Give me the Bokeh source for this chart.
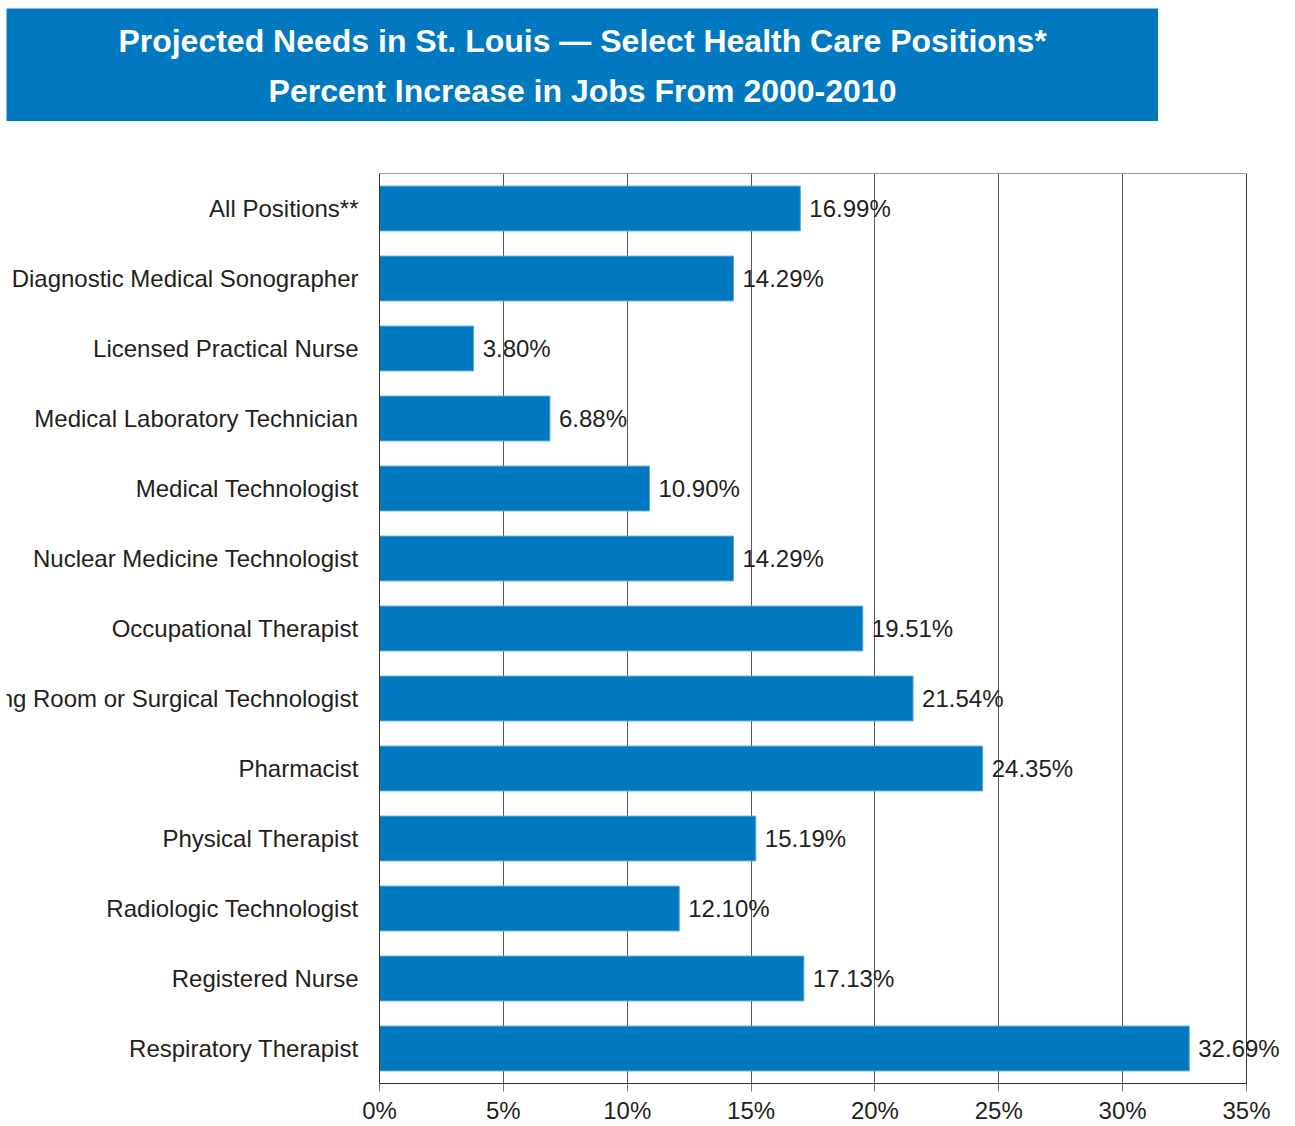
from bokeh.plotting import figure
from bokeh.models import (ColumnDataSource, FactorRange, Range1d, FixedTicker,
                          PrintfTickFormatter, BoxAnnotation)
from bokeh.layouts import column
from bokeh.core.properties import value
from bokeh.embed import file_html
from bokeh.resources import INLINE

title_lines = ["Projected Needs in St. Louis \u2014 Select Health Care Positions*",
               "Percent Increase in Jobs From 2000-2010"]

categories = ["All Positions**", "Diagnostic Medical Sonographer", "Licensed Practical Nurse",
              "Medical Laboratory Technician", "Medical Technologist",
              "Nuclear Medicine Technologist", "Occupational Therapist",
              "Operating Room or Surgical Technologist", "Pharmacist", "Physical Therapist",
              "Radiologic Technologist", "Registered Nurse", "Respiratory Therapist"]
values = [16.99, 14.29, 3.80, 6.88, 10.90, 14.29, 19.51, 21.54, 24.35, 15.19, 12.10, 17.13, 32.69]
x_ticks = [0, 5, 10, 15, 20, 25, 30, 35]

BLUE = "#0079C1"
TEXT = "#231F20"
FONT = "Liberation Sans"

# ---- title block ----
t = figure(width=1158, height=121, x_range=Range1d(0, 1), y_range=Range1d(0, 1),
           toolbar_location=None, output_backend="svg",
           min_border_left=6, min_border_top=8, min_border_right=0, min_border_bottom=0,
           background_fill_color=BLUE, border_fill_color="white", outline_line_color=None)
t.axis.visible = False
t.grid.visible = False
tsrc = ColumnDataSource(dict(x=[0.5, 0.5], y=[0.708, 0.274], text=title_lines))
t.text(x="x", y="y", text="text", source=tsrc, text_align="center", text_baseline="middle",
       text_color="white", text_font=value(FONT), text_font_style="bold",
       text_font_size="32px")

# ---- chart ----
src = ColumnDataSource(dict(cat=categories, val=values,
                            label=[f"{v:.2f}%" for v in values]))

# frame spans the whole canvas width so the category names can sit left of 0
p = figure(y_range=FactorRange(factors=list(reversed(categories)), range_padding=0),
           x_range=Range1d(-15.058, 36.938), frame_width=1288, frame_height=910,
           min_border_left=6, min_border_right=0, min_border_top=52, min_border_bottom=42,
           toolbar_location=None, output_backend="svg", outline_line_color=None)

p.hbar(y="cat", right="val", left=0, height=0.64, source=src,
       fill_color=BLUE, line_color="#5AA8DE", line_width=1)

# plot box around the 0..35 region
p.add_layout(BoxAnnotation(left=x_ticks[0], right=x_ticks[-1], fill_alpha=0,
                           line_color="#333333", line_width=1, line_alpha=1))

p.yaxis.visible = False
p.ygrid.visible = False

p.xaxis.ticker = FixedTicker(ticks=x_ticks)
p.xaxis.bounds = (x_ticks[0], x_ticks[-1])
p.xgrid.ticker = FixedTicker(ticks=x_ticks)
p.xgrid.grid_line_color = "#5a5a5a"
p.xgrid.grid_line_width = 1
p.xaxis.formatter = PrintfTickFormatter(format="%d%%")
p.xaxis.axis_line_color = "#333333"
p.xaxis.major_tick_line_color = "#777777"
p.xaxis.major_tick_out = 8
p.xaxis.major_tick_in = 0
p.xaxis.minor_tick_line_color = None
p.xaxis.major_label_standoff = 5
p.xaxis.major_label_text_font = FONT
p.xaxis.major_label_text_font_size = "24px"
p.xaxis.major_label_text_color = TEXT

p.text(x=0, y="cat", text="cat", source=src, x_offset=-21,
       text_align="right", text_baseline="middle",
       text_font=value(FONT), text_font_size="24px", text_color=TEXT)
p.text(x="val", y="cat", text="label", source=src, x_offset=9,
       text_align="left", text_baseline="middle",
       text_font=value(FONT), text_font_size="24px", text_color=TEXT)

layout = column(t, p, spacing=0)
open("out.html", "w").write(file_html(layout, INLINE))
